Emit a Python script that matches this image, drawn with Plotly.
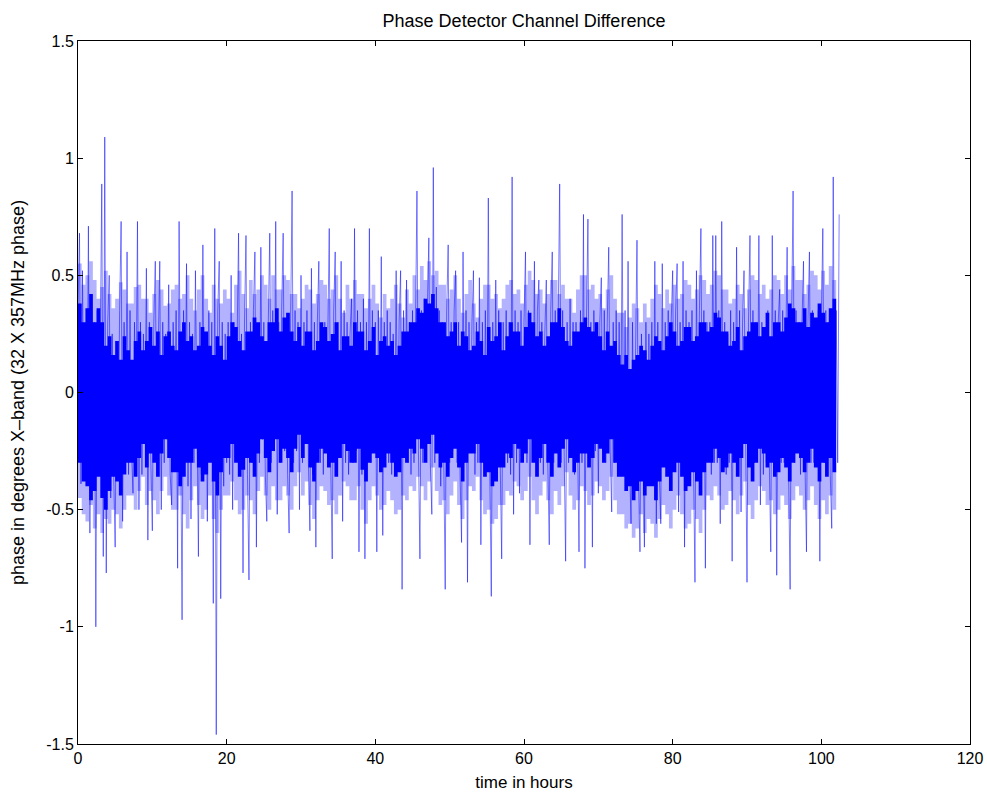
import plotly.graph_objects as go

# ---- data ----
# Individual samples (hours step 0.2), one row per hour
dt_hours = 0.2
phase_deg = [
    0.35, 0.68, -0.39, 0.52, -0.2,
    0.25, -0.3, 0.71, -0.6, 0.2,
    -0.15, 0.3, -1.0, 0.35, -0.25,
    0.2, 0.89, -0.7, 1.09, -0.77,
    0.3, 0.5, -0.45, 0.25, -0.35,
    -0.66, 0.2, -0.3, 0.35, 0.73,
    -0.55, 0.3, -0.2, 0.6, -0.35,
    0.35, -0.25, -0.43, 0.3, -0.1,
    0.73, -0.5, 0.3, -0.35, 0.25,
    -0.2, 0.53, -0.63, 0.3, -0.3,
    -0.59, 0.3, 0.56, -0.25, 0.2,
    0.56, -0.5, 0.3, -0.3, 0.25,
    -0.2, 0.46, -0.35, -0.48, 0.3,
    -0.25, 0.35, -0.75, 0.73, -0.3,
    -0.97, 0.35, -0.2, 0.55, -0.4,
    0.3, -0.54, 0.25, -0.3, 0.52,
    -0.2, -0.7, 0.3, -0.35, 0.63,
    -0.3, 0.25, -0.55, 0.35, -0.2,
    0.3, -0.9, 0.7, -1.46, 0.35,
    0.56, -0.88, 0.3, -0.4, 0.25,
    -0.3, 0.3, -0.35, 0.5, -0.5,
    0.3, -0.25, 0.35, 0.68, -0.3,
    0.25, -0.77, 0.3, 0.67, -0.35,
    -0.8, 0.3, -0.3, 0.35, 0.6,
    -0.66, 0.25, -0.3, 0.62, -0.2,
    0.3, -0.35, -0.55, 0.3, 0.68,
    -0.3, 0.35, -0.25, 0.73, -0.52,
    0.3, -0.3, 0.35, 0.68, -0.25,
    0.3, -0.35, -0.6, 0.3, 0.86,
    -0.3, 0.35, -0.25, 0.3, -0.5,
    0.5, -0.3, 0.3, -0.2, 0.35,
    -0.3, -0.59, 0.53, -0.35, 0.3,
    -0.66, 0.3, 0.56, -0.3, 0.25,
    -0.35, 0.3, -0.25, 0.35, 0.7,
    -0.3, -0.71, 0.35, 0.6, -0.3,
    0.3, -0.25, 0.56, -0.55, 0.35,
    -0.3, 0.3, -0.35, 0.25, 0.4,
    -0.3, 0.7, -0.25, 0.35, -0.68,
    0.3, -0.35, 0.4, -0.71, 0.3,
    -0.25, 0.7, -0.3, 0.35, -0.2,
    0.3, -0.68, 0.35, -0.3, 0.58,
    -0.61, 0.3, -0.25, 0.35, -0.3,
    0.3, -0.35, 0.25, -0.3, 0.52,
    -0.3, 0.3, 0.52, -0.84, 0.35,
    -0.25, 0.48, -0.3, 0.3, -0.35,
    0.35, -0.3, 0.3, 0.86, -0.25,
    -0.71, 0.35, -0.3, 0.4, -0.25,
    0.35, 0.66, -0.3, -0.52, 0.96,
    -0.3, 0.45, -0.25, 0.35, -0.4,
    0.3, -0.35, -0.84, 0.35, 0.63,
    -0.3, 0.3, -0.25, 0.35, 0.52,
    -0.3, 0.3, -0.35, -0.64, 0.6,
    -0.3, 0.35, -0.81, 0.3, -0.25,
    0.3, 0.52, -0.35, 0.3, -0.3,
    0.49, -0.65, 0.3, -0.25, 0.35,
    -0.3, 0.83, -0.35, -0.87, 0.3,
    -0.25, 0.48, -0.3, 0.35, -0.3,
    -0.71, 0.3, -0.25, 0.35, -0.3,
    0.3, -0.35, 0.92, -0.52, 0.35,
    -0.3, 0.3, -0.43, 0.35, -0.25,
    0.3, 0.6, -0.3, 0.35, -0.65,
    0.3, -0.25, 0.56, -0.3, 0.35,
    0.48, -0.3, 0.3, -0.35, 0.25,
    0.48, -0.3, -0.65, 0.35, 0.6,
    -0.3, 0.35, -0.25, 0.3, 0.89,
    -0.3, 0.35, -0.25, -0.72, 0.3,
    -0.3, 0.4, -0.25, 0.3, -0.35,
    0.3, -0.25, -0.68, 0.35, -0.3,
    0.76, -0.75, 0.3, 0.74, -0.3,
    0.3, -0.66, 0.35, -0.25, 0.3,
    -0.43, 0.3, 0.49, -0.25, 0.35,
    -0.3, 0.3, 0.62, -0.25, -0.51,
    0.3, -0.3, 0.35, -0.25, 0.3,
    -0.34, 0.76, -0.3, 0.35, -0.25,
    0.56, -0.3, -0.56, 0.3, -0.35,
    0.3, 0.65, -0.35, -0.68, 0.25,
    -0.3, -0.66, 0.3, -0.35, 0.25,
    -0.3, 0.3, -0.35, 0.56, -0.56,
    0.3, -0.35, -0.56, 0.55, -0.3,
    0.3, -0.25, 0.35, -0.3, 0.3,
    0.52, -0.3, 0.35, 0.55, -0.51,
    0.3, -0.3, 0.56, -0.66, 0.35,
    -0.3, 0.3, -0.25, 0.35, -0.3,
    -0.81, 0.52, -0.3, 0.35, 0.7,
    -0.3, 0.35, -0.75, 0.3, -0.25,
    0.3, -0.35, 0.67, -0.3, 0.67,
    -0.3, 0.35, -0.56, 0.73, -0.3,
    0.3, -0.35, 0.25, -0.3, 0.35,
    -0.72, 0.3, -0.25, 0.62, -0.3,
    0.35, -0.51, 0.3, 0.52, -0.35,
    -0.81, 0.3, 0.67, -0.3, 0.35,
    -0.3, 0.3, -0.25, 0.67, -0.48,
    0.3, -0.35, 0.25, -0.3, 0.35,
    -0.3, -0.68, 0.67, -0.3, 0.35,
    -0.78, 0.3, 0.44, -0.3, 0.35,
    -0.3, 0.3, 0.62, -0.35, -0.84,
    0.3, 0.86, -0.3, 0.35, -0.25,
    0.3, -0.35, 0.3, 0.56, -0.3,
    -0.68, 0.3, 0.6, -0.3, 0.35,
    -0.3, 0.3, -0.25, 0.35, -0.72,
    0.3, 0.7, -0.3, 0.35, -0.25,
    0.3, -0.35, -0.58, 0.92, -0.3,
    0.35, -0.3, 0.76,
]

# Envelopes read every half hour (0..102 h)
band_step = 0.5
# densely overplotted (solid blue) core
core_hi = [
    0.38, 0.3, 0.36, 0.42, 0.3, 0.36, 0.3, 0.2, 0.24, 0.16,
    0.22, 0.14, 0.24, 0.18, 0.14, 0.22, 0.26, 0.18, 0.22, 0.28,
    0.2, 0.26, 0.16, 0.24, 0.26, 0.2, 0.18, 0.26, 0.3, 0.22,
    0.24, 0.18, 0.2, 0.28, 0.26, 0.2, 0.16, 0.24, 0.2, 0.14,
    0.24, 0.3, 0.28, 0.22, 0.18, 0.26, 0.26, 0.32, 0.3, 0.24,
    0.22, 0.3, 0.3, 0.36, 0.26, 0.32, 0.34, 0.26, 0.22, 0.28,
    0.2, 0.26, 0.26, 0.18, 0.22, 0.3, 0.28, 0.22, 0.25, 0.3,
    0.18, 0.24, 0.24, 0.2, 0.3, 0.26, 0.26, 0.18, 0.22, 0.28,
    0.16, 0.22, 0.24, 0.2, 0.22, 0.16, 0.2, 0.26, 0.26, 0.3,
    0.3, 0.36, 0.34, 0.4, 0.38, 0.42, 0.36, 0.3, 0.3, 0.24,
    0.26, 0.3, 0.2, 0.26, 0.24, 0.18, 0.2, 0.26, 0.22, 0.16,
    0.28, 0.22, 0.24, 0.3, 0.18, 0.24, 0.3, 0.26, 0.26, 0.2,
    0.28, 0.34, 0.3, 0.24, 0.26, 0.2, 0.24, 0.3, 0.3, 0.36,
    0.28, 0.22, 0.2, 0.26, 0.26, 0.3, 0.32, 0.28, 0.26, 0.3,
    0.24, 0.18, 0.26, 0.2, 0.22, 0.16, 0.12, 0.16, 0.1, 0.14,
    0.16, 0.2, 0.18, 0.14, 0.2, 0.24, 0.22, 0.18, 0.24, 0.3,
    0.26, 0.2, 0.22, 0.28, 0.28, 0.22, 0.24, 0.3, 0.3, 0.26,
    0.28, 0.34, 0.32, 0.26, 0.26, 0.2, 0.22, 0.28, 0.18, 0.24,
    0.26, 0.3, 0.3, 0.24, 0.28, 0.34, 0.24, 0.3, 0.3, 0.26,
    0.32, 0.38, 0.36, 0.3, 0.3, 0.36, 0.28, 0.34, 0.32, 0.38,
    0.34, 0.3, 0.36, 0.4, 0.38,
]
core_lo = [
    -0.3, -0.38, -0.4, -0.46, -0.42, -0.36, -0.45, -0.5, -0.42, -0.36,
    -0.38, -0.44, -0.35, -0.3, -0.3, -0.36, -0.28, -0.22, -0.32, -0.26,
    -0.3, -0.36, -0.26, -0.2, -0.28, -0.34, -0.34, -0.4, -0.36, -0.3,
    -0.3, -0.24, -0.32, -0.38, -0.35, -0.3, -0.38, -0.44, -0.34, -0.28,
    -0.28, -0.22, -0.3, -0.36, -0.33, -0.28, -0.3, -0.36, -0.26, -0.2,
    -0.28, -0.34, -0.25, -0.2, -0.3, -0.24, -0.28, -0.34, -0.24, -0.18,
    -0.28, -0.22, -0.32, -0.38, -0.3, -0.24, -0.26, -0.32, -0.3, -0.36,
    -0.28, -0.22, -0.25, -0.3, -0.3, -0.24, -0.33, -0.38, -0.3, -0.26,
    -0.28, -0.34, -0.32, -0.26, -0.3, -0.36, -0.34, -0.28, -0.3, -0.24,
    -0.26, -0.2, -0.24, -0.3, -0.22, -0.18, -0.26, -0.32, -0.3, -0.36,
    -0.28, -0.24, -0.32, -0.38, -0.3, -0.26, -0.26, -0.22, -0.3, -0.36,
    -0.34, -0.4, -0.38, -0.32, -0.32, -0.26, -0.28, -0.22, -0.24, -0.3,
    -0.26, -0.2, -0.3, -0.36, -0.28, -0.22, -0.3, -0.36, -0.26, -0.32,
    -0.24, -0.2, -0.28, -0.34, -0.3, -0.26, -0.26, -0.32, -0.28, -0.22,
    -0.24, -0.3, -0.26, -0.2, -0.3, -0.36, -0.36, -0.42, -0.4, -0.46,
    -0.42, -0.38, -0.44, -0.4, -0.4, -0.46, -0.38, -0.32, -0.36, -0.42,
    -0.34, -0.3, -0.36, -0.42, -0.4, -0.34, -0.38, -0.44, -0.34, -0.3,
    -0.3, -0.24, -0.28, -0.34, -0.32, -0.26, -0.3, -0.36, -0.28, -0.22,
    -0.32, -0.38, -0.3, -0.24, -0.26, -0.32, -0.3, -0.36, -0.34, -0.28,
    -0.32, -0.38, -0.3, -0.26, -0.28, -0.34, -0.3, -0.24, -0.32, -0.38,
    -0.3, -0.36, -0.28, -0.34, -0.3,
]
# lighter, half-covered zone around the core
halo_hi = [
    0.55, 0.46, 0.5, 0.56, 0.48, 0.4, 0.45, 0.52, 0.42, 0.36,
    0.4, 0.47, 0.44, 0.38, 0.38, 0.45, 0.46, 0.4, 0.4, 0.34,
    0.42, 0.48, 0.44, 0.37, 0.38, 0.44, 0.46, 0.4, 0.42, 0.5,
    0.4, 0.35, 0.44, 0.5, 0.4, 0.34, 0.46, 0.4, 0.38, 0.44,
    0.4, 0.34, 0.46, 0.52, 0.42, 0.36, 0.48, 0.42, 0.44, 0.5,
    0.46, 0.4, 0.5, 0.44, 0.44, 0.5, 0.48, 0.42, 0.42, 0.36,
    0.4, 0.46, 0.44, 0.38, 0.42, 0.48, 0.46, 0.4, 0.44, 0.5,
    0.4, 0.34, 0.46, 0.4, 0.48, 0.42, 0.42, 0.36, 0.4, 0.46,
    0.38, 0.32, 0.42, 0.36, 0.4, 0.46, 0.38, 0.32, 0.44, 0.38,
    0.5, 0.44, 0.54, 0.48, 0.56, 0.5, 0.52, 0.46, 0.46, 0.4,
    0.44, 0.5, 0.4, 0.34, 0.42, 0.48, 0.38, 0.32, 0.4, 0.46,
    0.46, 0.4, 0.42, 0.36, 0.4, 0.46, 0.48, 0.42, 0.44, 0.38,
    0.46, 0.52, 0.48, 0.42, 0.44, 0.38, 0.42, 0.48, 0.48, 0.42,
    0.46, 0.4, 0.4, 0.34, 0.44, 0.5, 0.5, 0.44, 0.46, 0.4,
    0.42, 0.36, 0.44, 0.5, 0.4, 0.34, 0.34, 0.28, 0.32, 0.38,
    0.36, 0.3, 0.38, 0.32, 0.4, 0.46, 0.42, 0.36, 0.44, 0.38,
    0.46, 0.4, 0.42, 0.48, 0.46, 0.4, 0.44, 0.5, 0.48, 0.42,
    0.46, 0.52, 0.5, 0.44, 0.44, 0.38, 0.4, 0.46, 0.42, 0.36,
    0.44, 0.5, 0.48, 0.42, 0.46, 0.4, 0.44, 0.5, 0.48, 0.42,
    0.5, 0.44, 0.54, 0.48, 0.48, 0.42, 0.46, 0.52, 0.5, 0.44,
    0.52, 0.46, 0.54, 0.48, 0.56,
]
halo_lo = [
    -0.45, -0.52, -0.55, -0.48, -0.58, -0.52, -0.6, -0.54, -0.56, -0.5,
    -0.52, -0.58, -0.5, -0.44, -0.44, -0.5, -0.42, -0.36, -0.48, -0.42,
    -0.46, -0.52, -0.42, -0.36, -0.44, -0.5, -0.5, -0.44, -0.52, -0.58,
    -0.46, -0.4, -0.48, -0.54, -0.5, -0.44, -0.54, -0.6, -0.5, -0.44,
    -0.44, -0.38, -0.46, -0.52, -0.5, -0.44, -0.46, -0.52, -0.42, -0.36,
    -0.44, -0.5, -0.4, -0.46, -0.46, -0.4, -0.44, -0.5, -0.4, -0.34,
    -0.44, -0.38, -0.48, -0.54, -0.46, -0.4, -0.42, -0.48, -0.46, -0.52,
    -0.44, -0.38, -0.4, -0.46, -0.46, -0.4, -0.5, -0.56, -0.46, -0.4,
    -0.44, -0.5, -0.48, -0.42, -0.46, -0.52, -0.5, -0.44, -0.46, -0.4,
    -0.42, -0.36, -0.4, -0.46, -0.38, -0.32, -0.42, -0.48, -0.46, -0.52,
    -0.44, -0.38, -0.48, -0.54, -0.46, -0.4, -0.42, -0.36, -0.46, -0.52,
    -0.5, -0.56, -0.54, -0.48, -0.48, -0.42, -0.44, -0.38, -0.4, -0.46,
    -0.42, -0.36, -0.46, -0.52, -0.44, -0.38, -0.46, -0.52, -0.42, -0.48,
    -0.4, -0.34, -0.44, -0.5, -0.46, -0.4, -0.42, -0.48, -0.44, -0.38,
    -0.4, -0.46, -0.42, -0.36, -0.46, -0.52, -0.52, -0.58, -0.56, -0.62,
    -0.58, -0.52, -0.6, -0.54, -0.56, -0.62, -0.54, -0.48, -0.52, -0.58,
    -0.5, -0.44, -0.52, -0.58, -0.56, -0.5, -0.54, -0.6, -0.5, -0.44,
    -0.46, -0.4, -0.44, -0.5, -0.48, -0.42, -0.46, -0.52, -0.44, -0.38,
    -0.48, -0.54, -0.46, -0.4, -0.42, -0.48, -0.46, -0.52, -0.5, -0.44,
    -0.48, -0.54, -0.46, -0.4, -0.44, -0.5, -0.46, -0.4, -0.48, -0.54,
    -0.46, -0.52, -0.44, -0.5, -0.46,
]

x_ticks = [0, 20, 40, 60, 80, 100, 120]
y_ticks = [-1.5, -1, -0.5, 0, 0.5, 1, 1.5]
y_tick_text = ["-1.5", "-1", "-0.5", "0", "0.5", "1", "1.5"]

time_hours = [i * dt_hours for i in range(len(phase_deg))]
band_hours = [i * band_step for i in range(len(core_hi))]

FONT = "Liberation Sans, Arial, Helvetica, sans-serif"

fig = go.Figure()
# lighter half-covered zone
fig.add_trace(go.Scatter(x=band_hours, y=halo_lo, mode="lines", line=dict(width=0, shape="hv"),
                         showlegend=False, hoverinfo="skip"))
fig.add_trace(go.Scatter(x=band_hours, y=halo_hi, mode="lines", line=dict(width=0, shape="hv"),
                         fill="tonexty", fillcolor="rgba(0,0,255,0.3)",
                         showlegend=False, hoverinfo="skip"))
# dense core band (solid blue)
fig.add_trace(go.Scatter(x=band_hours, y=core_lo, mode="lines", line=dict(width=0, shape="hv"),
                         showlegend=False, hoverinfo="skip"))
fig.add_trace(go.Scatter(x=band_hours, y=core_hi, mode="lines", line=dict(width=0, shape="hv"),
                         fill="tonexty", fillcolor="#0000ff",
                         showlegend=False, hoverinfo="skip"))
# individual excursions
fig.add_trace(go.Scatter(x=time_hours, y=phase_deg, mode="lines",
                         line=dict(color="rgba(0,0,255,0.5)", width=1),
                         showlegend=False, hoverinfo="skip"))

axis_common = dict(
    showline=True, linecolor="#000000", linewidth=1, mirror="ticks",
    ticks="inside", ticklen=5, tickcolor="#000000",
    showgrid=False, zeroline=False, automargin=False,
    tickfont=dict(family=FONT, size=16, color="#000000"),
)

fig.update_layout(
    width=987, height=792,
    paper_bgcolor="white", plot_bgcolor="white",
    margin=dict(l=78, r=17, t=41, b=48),
    hovermode=False,
    title=dict(text="Phase Detector Channel Difference", xref="paper", x=0.5, xanchor="center",
               yref="container", y=0.9735, yanchor="middle",
               font=dict(family=FONT, size=18, color="#000000")),
    xaxis=dict(range=[0, 120], tickvals=x_ticks, **axis_common,
               title=dict(text="time in hours", standoff=12,
                          font=dict(family=FONT, size=17, color="#000000"))),
    yaxis=dict(range=[-1.5, 1.5], tickvals=y_ticks, ticktext=y_tick_text, **axis_common,
               title=dict(text="phase in degrees X\u2013band (32 X 357MHz phase)", standoff=16,
                          font=dict(family=FONT, size=18, color="#000000"))),
)

# remove the browser's default 8px page margin so the figure fills the 987x792 window exactly
fig.write_html("out.html",
               config={"displayModeBar": False},
               post_script="document.body.style.margin='0';document.body.style.overflow='hidden';")
